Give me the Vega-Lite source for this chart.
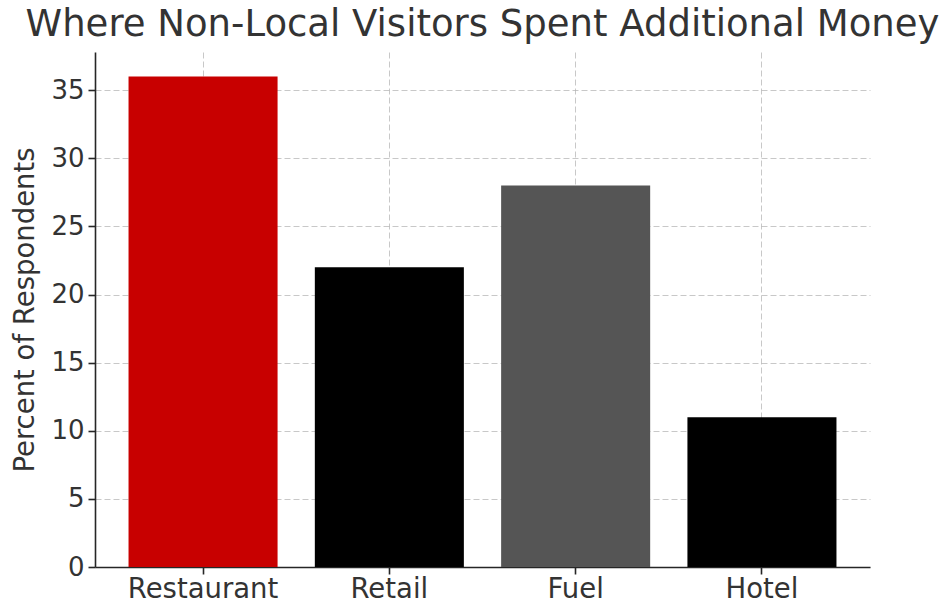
{
  "$schema": "https://vega.github.io/schema/vega-lite/v6.json",
  "autosize": {"type": "none"},
  "padding": {"left": 95, "top": 52, "right": 72, "bottom": 35},
  "width": 775,
  "height": 515,
  "background": "white",
  "title": {
    "text": "Where Non-Local Visitors Spent Additional Money",
    "font": "DejaVu Sans",
    "fontSize": 37,
    "fontWeight": "normal",
    "color": "#333333",
    "anchor": "middle",
    "baseline": "alphabetic",
    "offset": -21
  },
  "data": {
    "values": [
      {"category": "Restaurant", "percent": 36},
      {"category": "Retail", "percent": 22},
      {"category": "Fuel", "percent": 28},
      {"category": "Hotel", "percent": 11}
    ]
  },
  "config": {
    "view": {"stroke": null},
    "axis": {
      "labelFont": "DejaVu Sans",
      "titleFont": "DejaVu Sans",
      "labelFontSize": 26,
      "titleFontSize": 27.5,
      "titleFontWeight": "normal",
      "labelColor": "#333333",
      "titleColor": "#333333",
      "domainColor": "#262626",
      "domainWidth": 1.6,
      "tickColor": "#262626",
      "tickWidth": 1.6,
      "tickSize": 7,
      "grid": true,
      "gridColor": "#b0b0b0",
      "gridOpacity": 0.7,
      "gridDash": [6, 3],
      "gridWidth": 1,
      "zindex": 1
    }
  },
  "mark": {"type": "bar"},
  "encoding": {
    "x": {
      "field": "category",
      "type": "nominal",
      "sort": null,
      "scale": {"paddingInner": 0.2, "paddingOuter": 0.18},
      "axis": {
        "title": null,
        "labelAngle": 0,
        "labelFontSize": 27.5,
        "labelPadding": 1,
        "bandPosition": 0.5
      }
    },
    "y": {
      "field": "percent",
      "type": "quantitative",
      "scale": {"domain": [0, 37.8], "nice": false},
      "axis": {
        "title": "Percent of Respondents",
        "values": [0, 5, 10, 15, 20, 25, 30, 35],
        "labelPadding": 4,
        "titlePadding": 11
      }
    },
    "color": {
      "field": "category",
      "type": "nominal",
      "scale": {
        "domain": ["Restaurant", "Retail", "Fuel", "Hotel"],
        "range": ["#c80000", "#000000", "#555555", "#000000"]
      },
      "legend": null
    }
  }
}
